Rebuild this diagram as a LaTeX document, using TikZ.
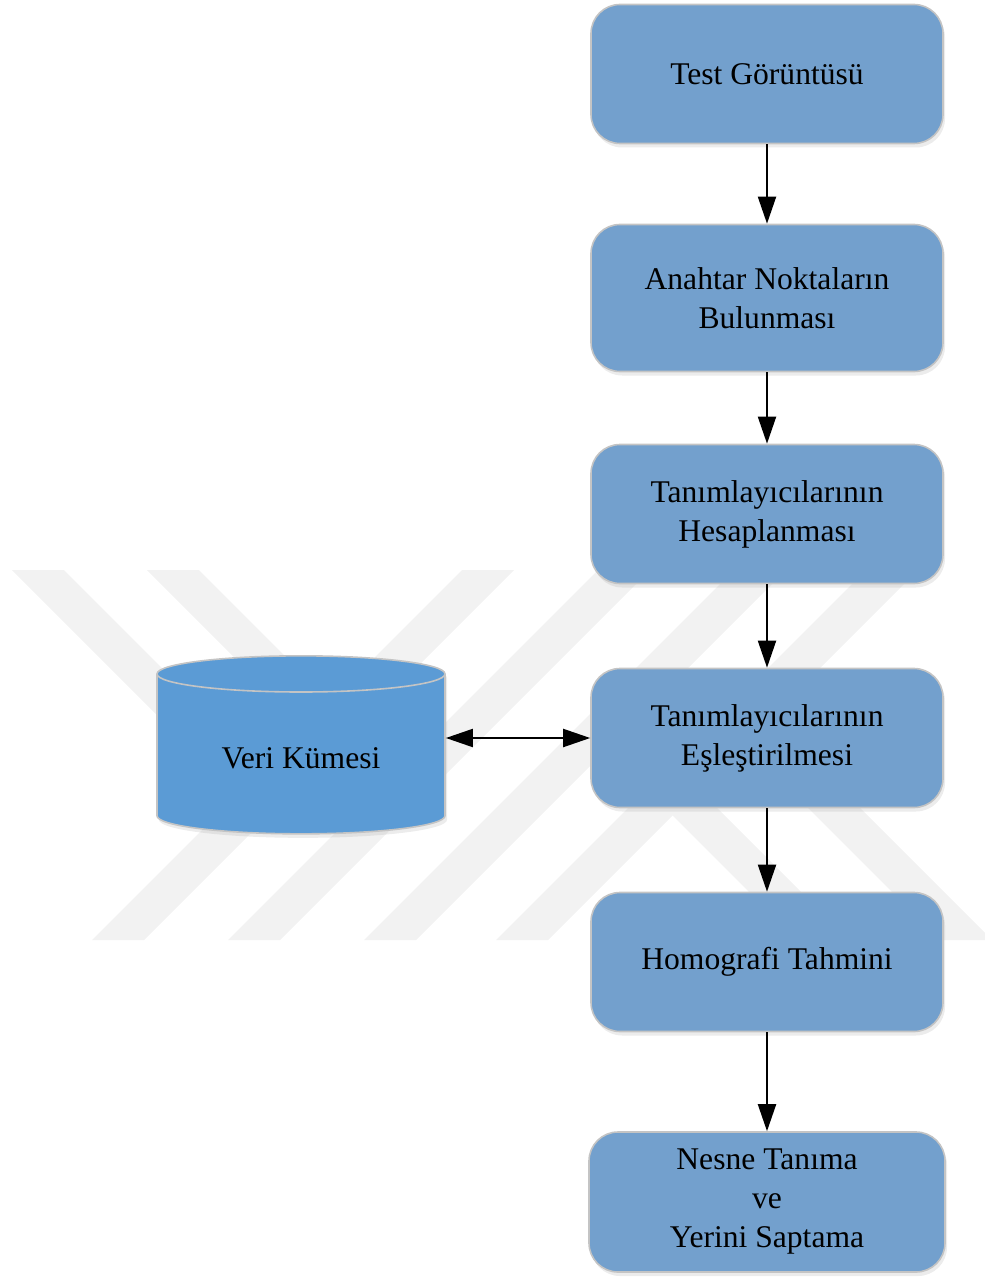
\documentclass[tikz,border=0pt]{standalone}
\usepackage{fontspec}
\setmainfont{Liberation Serif}
\usetikzlibrary{arrows.meta,shapes.geometric,shadows}
\definecolor{kutumavi}{HTML}{73A0CD}
\definecolor{silmavi}{HTML}{5B9BD5}
\definecolor{kenargri}{HTML}{C4C4C4}
\tikzset{main node/.style={rectangle,rounded corners=14.5pt,fill=kutumavi,draw=kenargri,line width=0.8pt,
  minimum width=176pt,minimum height=69.5pt,align=center,font=\fontsize{15.8}{19.5}\selectfont,
  drop shadow={shadow xshift=1pt,shadow yshift=-2pt,opacity=0.25,fill=black!30}},
}

\begin{document}
\begin{tikzpicture}[x=0.5pt,y=-0.5pt,->,>={Triangle[length=13.5pt,width=9pt]},line width=1pt,node distance=112pt,
db node/.style={cylinder,shape border rotate=90,aspect=0.21,fill=silmavi,draw=kenargri,line width=0.8pt,
  minimum width=144pt,minimum height=89pt,font=\fontsize{15.8}{19.5}\selectfont,
  drop shadow={shadow xshift=1pt,shadow yshift=-2pt,opacity=0.25,fill=black!30}},
iz/.style={-,fill=black!5,draw=none}]

\useasboundingbox (0,0) rectangle (984,1278);

% filigran
\foreach \b in {92,228,364,496}
  \path[iz] (\b,940) -- (\b+52,940) -- (\b+422,570) -- (\b+370,570) -- cycle;
\foreach \a in {12,147}
  \path[iz] (\a,570) -- (\a+52,570) -- (\a+274,792) -- (\a+222,792) -- cycle;
\foreach \a in {670,813}
  \path[iz] (\a-63,750) -- (\a-11,750) -- (\a+179,940) -- (\a+127,940) -- cycle;

\node[main node] (tg) at (767,74) {Test Görüntüsü};
\node[main node, minimum height=73.5pt] (an) [below of=tg, node distance=112pt] {Anahtar Noktaların\\Bulunması};
\node[main node] (hs) [below of=an, node distance=108pt] {Tanımlayıcılarının\\Hesaplanması};
\node[main node] (es) [below of=hs] {Tanımlayıcılarının\\Eşleştirilmesi};
\node[main node] (hm) [below of=es] {Homografi Tahmini};
\node[main node, minimum width=178pt, minimum height=70pt] (ns) [below of=hm, node distance=120pt] {Nesne Tanıma\\ve\\Yerini Saptama};

\node[db node] (vk) at (301,757) {\raisebox{-5.5pt}[0pt][0pt]{Veri Kümesi}};

\path (tg) edge (an)
      (an) edge (hs)
      (hs) edge (es)
      (es) edge (hm)
      (hm) edge (ns)
      (es.west -| vk.east) edge[<->] (es.west);
\end{tikzpicture}
\end{document}
